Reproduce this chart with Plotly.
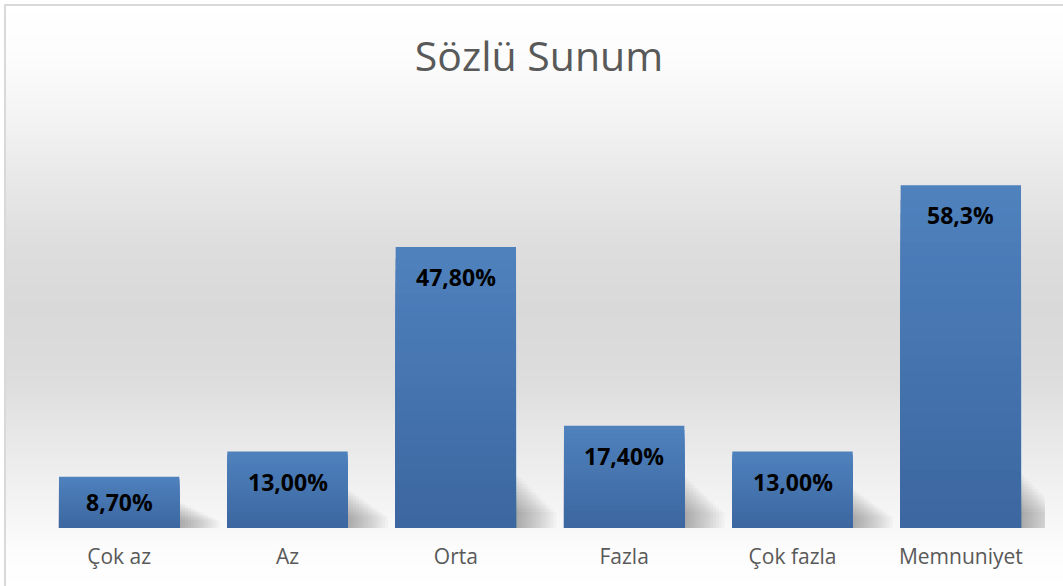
import plotly.graph_objects as go
import numpy as np

# ---- data ----
categories = ["Çok az", "Az", "Orta", "Fazla", "Çok fazla", "Memnuniyet"]
values = [8.7, 13.0, 47.8, 17.4, 13.0, 58.3]
value_labels = ["8,70%", "13,00%", "47,80%", "17,40%", "13,00%", "58,3%"]
title_text = "Sözlü Sunum"

W, H = 1063, 586
BAR_W = 0.715
PX_PER_UNIT = 5.88

fig = go.Figure()

# ---- soft shadows to the right of bars (decorative) ----
M = 14
for j in range(1, M + 1):
    ext = 0.24 * j / M
    hs = [min(0.5 * v, 9.0) * (1 - 0.75 * (j - 1) / M) for v in values]
    fig.add_trace(go.Bar(
        x=categories, y=hs,
        offset=-BAR_W / 2 + 0.04, width=BAR_W - 0.04 + ext,
        marker=dict(color="rgba(0,0,0,0.022)", line=dict(width=0)),
        hoverinfo="skip", showlegend=False,
    ))

# ---- bars with vertical gradient (light top -> darker bottom) ----
top_rgb = np.array([79, 129, 189])
bot_rgb = np.array([60, 103, 160])
N = 24
for k in range(N):
    frac = 1 - k / N
    c = top_rgb + (bot_rgb - top_rgb) * (k / (N - 1))
    color = "rgb(%d,%d,%d)" % tuple(int(round(v)) for v in c)
    fig.add_trace(go.Bar(
        x=categories,
        y=[v * frac for v in values],
        offset=-BAR_W / 2, width=BAR_W,
        marker=dict(color=color, line=dict(width=0)),
        hoverinfo="skip" if k else "y",
        showlegend=False,
    ))

# ---- data labels ----
for cat, v, lab in zip(categories, values, value_labels):
    shift = min(30.0, v * PX_PER_UNIT / 2)
    fig.add_annotation(
        x=cat, y=v, text="<b>%s</b>" % lab, showarrow=False,
        yanchor="middle", yshift=-shift,
        font=dict(family="Open Sans", size=23, color="#000000"),
    )

# ---- background gradient (chart area style) ----
stops = [(6, 255), (60, 252), (120, 243), (180, 232), (250, 221), (310, 217),
         (380, 221), (440, 232), (500, 243), (550, 252), (586, 255)]
ys = np.arange(6, 587, 4)
sy = [s[0] for s in stops]
sv = [s[1] for s in stops]
shapes = []
for y0 in ys:
    y1 = min(y0 + 4, 586)
    g = int(round(np.interp((y0 + y1) / 2, sy, sv)))
    shapes.append(dict(
        type="rect", xref="paper", yref="paper", layer="below",
        x0=6 / W, x1=1.0, y0=1 - y1 / H, y1=1 - y0 / H,
        fillcolor="rgb(%d,%d,%d)" % (g, g, g), line=dict(width=0),
    ))
# chart frame
shapes.append(dict(
    type="path", xref="paper", yref="paper", layer="above",
    path="M %f 0 L %f %f L 1.02 %f" % (5 / W, 5 / W, 1 - 5 / H, 1 - 5 / H),
    line=dict(color="#d9d9d9", width=2),
))

plot_top_px = 528 - 60 * PX_PER_UNIT
fig.update_layout(
    width=W, height=H,
    margin=dict(l=0, r=0, t=0, b=0),
    paper_bgcolor="white",
    plot_bgcolor="rgba(0,0,0,0)",
    barmode="overlay",
    shapes=shapes,
    title=dict(
        text=title_text, x=539 / W, xanchor="center",
        y=1 - 57 / H, yanchor="middle", yref="paper",
        font=dict(family="Open Sans", size=41, color="#595959"),
    ),
    xaxis=dict(
        domain=[35 / W, 1045 / W],
        range=[-0.5, 5.5],
        showgrid=False, showline=False, zeroline=False,
        ticks="", ticklabelstandoff=14,
        tickfont=dict(family="Open Sans", size=21, color="#595959"),
    ),
    yaxis=dict(
        domain=[1 - 528 / H, 1 - plot_top_px / H],
        range=[0, 60], visible=False, showgrid=False, zeroline=False,
    ),
)

fig.write_html(
    "out.html",
    config={"displayModeBar": False},
    post_script="document.body.style.margin='0px';document.body.style.padding='0px';",
)
